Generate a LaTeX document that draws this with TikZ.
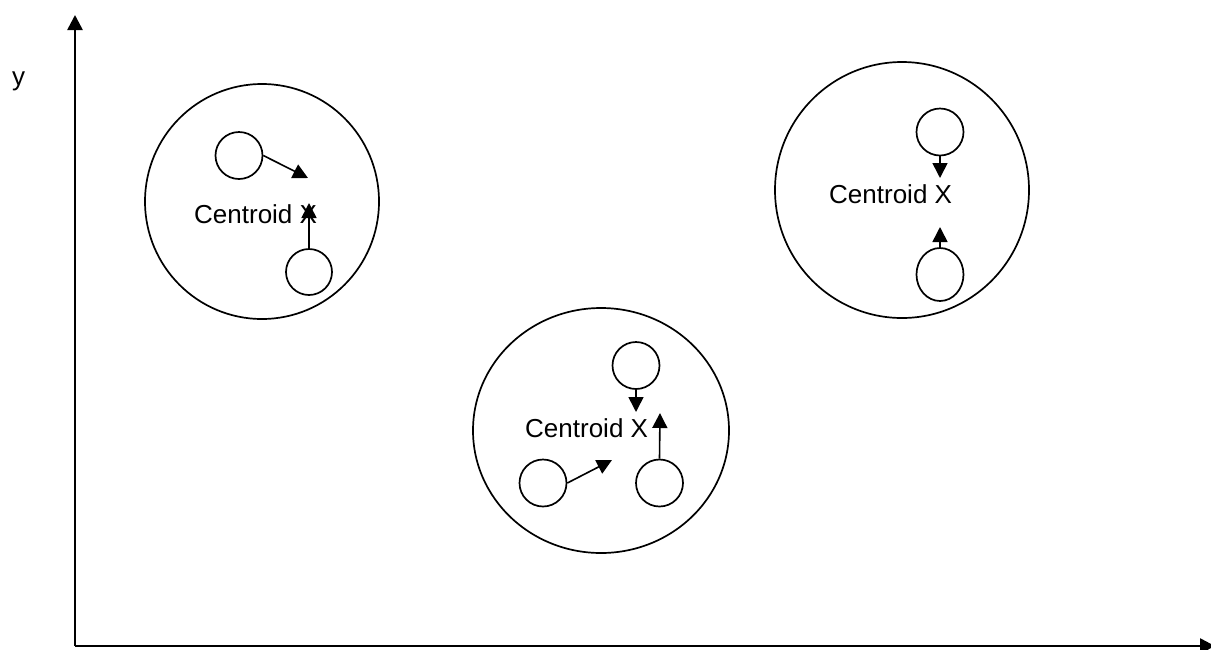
\documentclass[tikz,border=0pt]{standalone}
\usepackage{fontspec}
\setmainfont{Liberation Sans}
\usetikzlibrary{arrows.meta,shapes.geometric}
\begin{document}
\begin{tikzpicture}[x=1pt,y=-1pt,
  big/.style={draw,ellipse,line width=1.7pt,inner sep=0pt},
  small/.style={draw,circle,line width=1.7pt,minimum size=47pt,inner sep=0pt},
  arr/.style={line width=1.6pt,-{Triangle[length=15pt,width=15pt]}},
  axis/.style={line width=2.6pt,-{Triangle[length=15pt,width=15pt]}},
  lbl/.style={font=\fontsize{26}{30}\selectfont,inner sep=0pt,anchor=base west}]
\useasboundingbox (0,0) rectangle (1211,649);
% axes
\coordinate (O) at (75,646);
\coordinate (Ytop) at (75,15);
\coordinate (Xend) at (1215,646);
\draw[axis] (O) -- (Ytop);
\draw[axis] (O) -- (Xend);
\node[lbl] (ylab) at (12,85) {y};
% cluster 1
\node[big,minimum width=234pt,minimum height=235pt] (C1) at (262,201.5) {};
\node[lbl] (t1) at (194,223) {Centroid X};
\node[small] (a1) at (239,155.5) {};
\node[small,minimum size=46pt] (b1) at (309,272) {};
\coordinate (pa1) at (308,178);
\coordinate (pb1) at (309,203);
\draw[arr] (a1.east) -- (pa1);
\draw[arr] (b1.north) -- (pb1);
% cluster 2
\node[big,minimum width=254pt,minimum height=256pt] (C2) at (902,190) {};
\node[lbl] (t2) at (829,203) {Centroid X};
\node[small] (a2) at (940,132) {};
\node[draw,ellipse,line width=1.7pt,inner sep=0pt,minimum width=47pt,minimum height=53pt] (b2) at (940,274.5) {};
\coordinate (pa2) at (940,178);
\coordinate (pb2) at (940,227);
\draw[arr] (a2.south) -- (pa2);
\draw[arr] (b2.north) -- (pb2);
% cluster 3
\node[big,minimum width=256pt,minimum height=245pt] (C3) at (601,430.5) {};
\node[lbl] (t3) at (525,437) {Centroid X};
\node[small] (a3) at (636,365.5) {};
\node[small] (b3) at (659.5,483) {};
\node[small] (c3) at (543,483) {};
\coordinate (pa3) at (636,412);
\coordinate (pb3) at (660,413);
\coordinate (pc3) at (612,460);
\draw[arr] (a3.south) -- (pa3);
\draw[arr] (b3.north) -- (pb3);
\draw[arr] (c3.east) -- (pc3);
\end{tikzpicture}
\end{document}
